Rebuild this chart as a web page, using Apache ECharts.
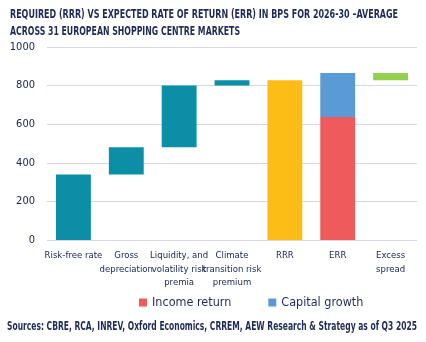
<!DOCTYPE html>
<html>
<head>
<meta charset="utf-8">
<script src="https://cdn.jsdelivr.net/npm/echarts@6/dist/echarts.min.js"></script>
<style>
html,body{margin:0;padding:0;background:#fff;}
#chart{width:426px;height:342px;}
</style>
</head>
<body>
<div id="chart"></div>
<script>
// Waterfall of required return components, then RRR vs ERR and the excess spread (bps)
const categories = ['Risk-free rate', 'Gross\ndepreciation', 'Liquidity, and\nvolatility risk\npremia', 'Climate\ntransition risk\npremium', 'RRR', 'ERR', 'Excess\nspread'];
const components = [340, 140, 320, 28];     // build-up steps of the required return
const rrr = 828;
const incomeReturn = 637;
const capitalGrowth = 228;
const yTicks = [0, 200, 400, 600, 800, 1000];

const titleLines = ['REQUIRED (RRR) VS EXPECTED RATE OF RETURN (ERR) IN BPS FOR 2026-30 \u2013AVERAGE',
                    'ACROSS 31 EUROPEAN SHOPPING CENTRE MARKETS'];
const sourceText = 'Sources: CBRE, RCA, INREV, Oxford Economics, CRREM, AEW Research & Strategy as of Q3 2025';

const err = incomeReturn + capitalGrowth;
const excess = err - rrr;

// invisible base for the floating bars
const base = [];
const steps = [];
let run = 0;
components.forEach(v => { base.push(run); steps.push(v); run += v; });
base.push('-', '-', rrr);
steps.push('-', '-', '-');

const rrrData = ['-', '-', '-', '-', rrr, '-', '-'];
const incomeData = ['-', '-', '-', '-', '-', incomeReturn, '-'];
const capitalData = ['-', '-', '-', '-', '-', capitalGrowth, '-'];
const excessData = ['-', '-', '-', '-', '-', '-', excess];

const family = '"DejaVu Sans Condensed", "Liberation Sans Narrow", sans-serif';
const ink = '#1f2b55';

// condensed text: squeeze a line horizontally so it spans a given width
const ctx = document.createElement('canvas').getContext('2d');
function squeezed(text, font, x, y, width) {
  ctx.font = font;
  const w = ctx.measureText(text).width;
  return {
    type: 'text', x: x, y: y, scaleX: width / w, originX: 0, originY: 0,
    style: { text: text, font: font, fill: ink, textVerticalAlign: 'middle' }
  };
}
const titleFont = 'bold 12px ' + family;
const sourceFont = 'bold 12px ' + family;

const chart = echarts.init(document.getElementById('chart'));
chart.setOption({
  animation: false,
  textStyle: { fontFamily: family },
  legend: {
    data: ['Income return', 'Capital growth'],
    top: 296, left: 139, itemGap: 37, padding: 0,
    itemWidth: 8, itemHeight: 8, icon: 'rect',
    textStyle: { fontFamily: family, fontSize: 12.5, color: ink }
  },
  graphic: [
    squeezed(titleLines[0], titleFont, 10, 15, 388),
    squeezed(titleLines[1], titleFont, 10, 32, 230),
    squeezed(sourceText, sourceFont, 7, 327, 410)
  ],
  grid: { left: 47, right: 9, top: 47, bottom: 102 },
  xAxis: {
    type: 'category', data: categories,
    axisLine: { show: false }, axisTick: { show: false },
    axisLabel: { interval: 0, color: '#17244d', fontSize: 9.5, lineHeight: 13.5, margin: 9, fontFamily: family }
  },
  yAxis: {
    type: 'value', min: 0, max: 1000, interval: 200,
    axisLabel: { color: '#17244d', fontSize: 11, margin: 12, fontFamily: family,
      formatter: v => yTicks.includes(v) ? String(v) : '' },
    splitLine: { lineStyle: { color: '#d3d7e8', width: 1 } }
  },
  series: [
    { name: 'base', type: 'bar', stack: 'w', barWidth: '66%', data: base,
      itemStyle: { color: 'transparent' }, silent: true },
    { name: 'Components', type: 'bar', stack: 'w', data: steps, itemStyle: { color: '#0a8fa7' } },
    { name: 'RRR', type: 'bar', stack: 'w', data: rrrData, itemStyle: { color: '#fbbd16' } },
    { name: 'Income return', type: 'bar', stack: 'w', data: incomeData, itemStyle: { color: '#ef5b5d' } },
    { name: 'Capital growth', type: 'bar', stack: 'w', data: capitalData, itemStyle: { color: '#5b9bd5' } },
    { name: 'Excess spread', type: 'bar', stack: 'w', data: excessData, itemStyle: { color: '#92d050' } }
  ]
});
</script>
</body>
</html>
